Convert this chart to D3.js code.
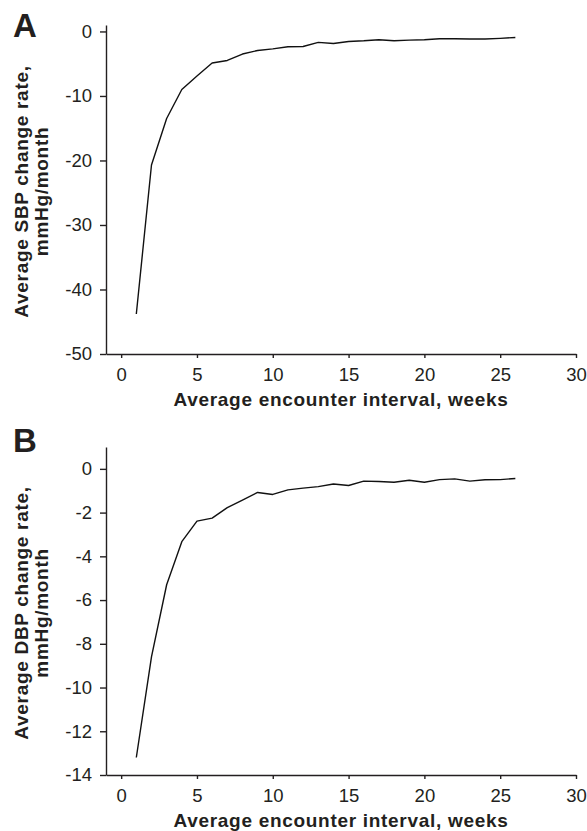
<!DOCTYPE html>
<html>
<head>
<meta charset="utf-8">
<script src="https://cdn.jsdelivr.net/npm/d3@7"></script>
<style>
  body { margin: 0; background: #fff; }
  svg { display: block; }
  .axis text { font-family: "Liberation Sans", Arial, sans-serif; font-size: 18.5px; fill: #231f20; }
  .axis path, .axis line { stroke: #231f20; stroke-width: 1.4px; }
  .title { font-family: "Liberation Sans", Arial, sans-serif; font-weight: bold; fill: #231f20; }
</style>
</head>
<body>
<div id="chart"></div>
<script>
// weeks on the x axis
const weeks = [1, 2, 3, 4, 5, 6, 7, 8, 9, 10, 11, 12, 13, 14, 15, 16, 17, 18, 19, 20, 21, 22, 23, 24, 25, 26];

// panel A: systolic
const sbpRate = [-43.8, -20.7, -13.5, -9.0, -6.9, -4.9, -4.5, -3.5, -2.95, -2.7, -2.38, -2.33, -1.7, -1.87,
                 -1.55, -1.45, -1.29, -1.45, -1.34, -1.29, -1.13, -1.13, -1.18, -1.18, -1.08, -0.93];

// panel B: diastolic
const dbpRate = [-13.2, -8.6, -5.3, -3.33, -2.39, -2.25, -1.77, -1.43, -1.08, -1.17, -0.96, -0.88, -0.81, -0.69,
                 -0.76, -0.56, -0.58, -0.61, -0.52, -0.61, -0.49, -0.46, -0.56, -0.50, -0.49, -0.44];

const xTicks = [0, 5, 10, 15, 20, 25, 30];
const sbpTicks = [0, -10, -20, -30, -40, -50];
const dbpTicks = [0, -2, -4, -6, -8, -10, -12, -14];

const width = 587, height = 831;

const svg = d3.select("#chart").append("svg")
    .attr("width", width)
    .attr("height", height);

function drawPanel(opts) {
    const x = d3.scaleLinear()
        .domain([-1, 30])
        .range([106, 576]);

    const y = d3.scaleLinear()
        .domain(opts.yDomain)
        .range([opts.bottom, opts.top]);

    svg.append("g")
        .attr("class", "axis")
        .attr("transform", `translate(0, ${opts.bottom})`)
        .call(d3.axisBottom(x).tickValues(xTicks).tickFormat(d => String(d))
            .tickSize(4).tickSizeOuter(0).tickPadding(10));

    svg.append("g")
        .attr("class", "axis")
        .attr("transform", `translate(106, 0)`)
        .call(d3.axisLeft(y).tickValues(opts.yTicks).tickFormat(d => String(d))
            .tickSize(6).tickSizeOuter(0).tickPadding(8));

    const line = d3.line()
        .x((d, i) => x(weeks[i]))
        .y(d => y(d));

    svg.append("path")
        .datum(opts.values)
        .attr("fill", "none")
        .attr("stroke", "#111")
        .attr("stroke-width", 1.4)
        .attr("stroke-linejoin", "round")
        .attr("d", line);

    // panel letter
    svg.append("text")
        .attr("class", "title")
        .attr("x", 13)
        .attr("y", opts.letterY)
        .style("font-size", "33px")
        .text(opts.letter);

    // x axis title
    svg.append("text")
        .attr("class", "title")
        .attr("x", 341)
        .attr("y", opts.bottom + 52)
        .attr("text-anchor", "middle")
        .style("font-size", "19px")
        .style("letter-spacing", "0.7px")
        .text("Average encounter interval, weeks");

    // y axis title, two lines
    const cy = (opts.top + opts.bottom) / 2 + 2;
    const yt = svg.append("text")
        .attr("class", "title")
        .attr("transform", `translate(28, ${cy}) rotate(-90)`)
        .attr("text-anchor", "middle")
        .style("font-size", "19px")
        .style("letter-spacing", "0.7px");
    yt.append("tspan").attr("x", 0).attr("dy", 0).text(opts.yLabel);
    yt.append("tspan").attr("x", 0).attr("dy", 20).text("mmHg/month");
}

drawPanel({
    letter: "A",
    letterY: 37,
    values: sbpRate,
    yDomain: [-50, 1],
    yTicks: sbpTicks,
    top: 25,
    bottom: 354,
    yLabel: "Average SBP change rate,"
});

drawPanel({
    letter: "B",
    letterY: 452,
    values: dbpRate,
    yDomain: [-14, 1],
    yTicks: dbpTicks,
    top: 447,
    bottom: 775,
    yLabel: "Average DBP change rate,"
});
</script>
</body>
</html>
